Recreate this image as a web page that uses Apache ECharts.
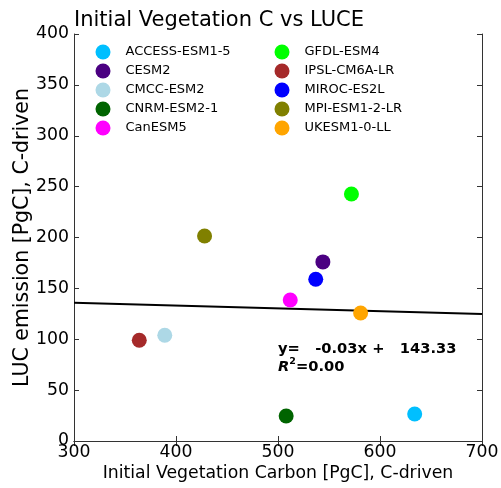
<!DOCTYPE html>
<html><head><meta charset="utf-8">
<script src="https://cdn.jsdelivr.net/npm/echarts@6/dist/echarts.min.js"></script>
<style>html,body{margin:0;padding:0;background:#fff}#c{width:501px;height:488px}</style>
</head><body><div id="c"></div>
<script>
const models = ['ACCESS-ESM1-5','CESM2','CMCC-ESM2','CNRM-ESM2-1','CanESM5','GFDL-ESM4','IPSL-CM6A-LR','MIROC-ES2L','MPI-ESM1-2-LR','UKESM1-0-LL'];
const colors = ['#00bfff','#4b0082','#add8e6','#006400','#ff00ff','#00ff00','#a52a2a','#0000ff','#808000','#ffa500'];
const vegC = [634, 544, 389, 508, 512, 572, 364, 537, 428, 581];
const luce = [26.5, 176, 104, 24.6, 138.6, 242.7, 99, 159, 201.5, 125.8];
const xTicks = [300, 400, 500, 600, 700];
const yTicks = [0, 50, 100, 150, 200, 250, 300, 350, 400];
const fitSlope = -0.0275, fitIntercept = 144.0;
const fitLabel1 = 'y=   -0.03x +   143.33';

const font = 'DejaVu Sans';
const series = models.map((m, i) => ({
  name: m, type: 'scatter', symbolSize: 15, xAxisIndex: 0, yAxisIndex: 0,
  itemStyle: {color: colors[i], opacity: 1},
  data: [[vegC[i], luce[i]]], z: 3
}));
series.push({
  type: 'line', name: 'fit', xAxisIndex: 0, yAxisIndex: 0, showSymbol: false, silent: true,
  lineStyle: {color: '#000', width: 2},
  data: [[xTicks[0], fitSlope*xTicks[0]+fitIntercept],[xTicks[xTicks.length-1], fitSlope*xTicks[xTicks.length-1]+fitIntercept]], z: 2
});
const axBase = {
  axisLine: {show: true, lineStyle: {color: '#333', width: 1}},
  axisTick: {show: true, inside: true, length: 5, lineStyle: {color: '#333'}},
  splitLine: {show: false}
};
const chart = echarts.init(document.getElementById('c'), null, {renderer: 'canvas'});
chart.setOption({
  animation: false,
  title: {text: 'Initial Vegetation C vs LUCE', left: 69, top: 5,
    textStyle: {fontFamily: font, fontSize: 21, fontWeight: 'normal', color: '#000'}},
  grid: {left: 74, right: 19, top: 34, bottom: 47, containLabel: false, outerBoundsMode: 'none'},
  legend: [
    {data: models.slice(0,5), orient: 'vertical', left: 90.5, top: 39.5, itemWidth: 15, itemHeight: 15, itemGap: 4, icon: 'circle',
     textStyle: {fontFamily: font, fontSize: 13, color: '#000', padding: [0,0,0,10]}},
    {data: models.slice(5), orient: 'vertical', left: 269.5, top: 39.5, itemWidth: 15, itemHeight: 15, itemGap: 4, icon: 'circle',
     textStyle: {fontFamily: font, fontSize: 13, color: '#000', padding: [0,0,0,10]}}
  ],
  xAxis: [
    Object.assign({type: 'value', min: xTicks[0], max: xTicks[xTicks.length-1], interval: 100, position: 'bottom',
      name: 'Initial Vegetation Carbon [PgC], C-driven', nameLocation: 'middle', nameGap: 24, nameMoveOverlap: false,
      nameTextStyle: {fontFamily: font, fontSize: 17.3, color: '#000'},
      axisLabel: {fontFamily: font, fontSize: 17.3, color: '#000', margin: 3}}, axBase),
    Object.assign({type: 'value', min: xTicks[0], max: xTicks[xTicks.length-1], interval: 100, position: 'top',
      axisLabel: {show: false}}, axBase)
  ],
  yAxis: [
    Object.assign({type: 'value', min: yTicks[0], max: yTicks[yTicks.length-1], interval: 50, position: 'left',
      name: 'LUC emission [PgC], C-driven', nameLocation: 'middle', nameGap: 41, nameMoveOverlap: false,
      nameTextStyle: {fontFamily: font, fontSize: 20.5, color: '#000'},
      axisLabel: {fontFamily: font, fontSize: 17.3, color: '#000', margin: 5}}, axBase),
    Object.assign({type: 'value', min: yTicks[0], max: yTicks[yTicks.length-1], interval: 50, position: 'right',
      axisLabel: {show: false}}, axBase)
  ],
  graphic: [
    {type: 'text', left: 278, top: 342, style: {text: fitLabel1, font: 'bold 14.7px "DejaVu Sans"', fill: '#000'}},
    {type: 'text', left: 278, top: 357, style: {
      text: '{i|R}{s|2}{n|=0.00}',
      rich: {
        i: {font: 'italic bold 14.7px "DejaVu Sans"', fill: '#000', verticalAlign: 'bottom'},
        s: {font: 'bold 9.5px "DejaVu Sans"', fill: '#000', verticalAlign: 'top', padding: [0,0,8,0]},
        n: {font: 'bold 14.7px "DejaVu Sans"', fill: '#000', verticalAlign: 'bottom'}
      }}}
  ],
  series: series
});
</script></body></html>
